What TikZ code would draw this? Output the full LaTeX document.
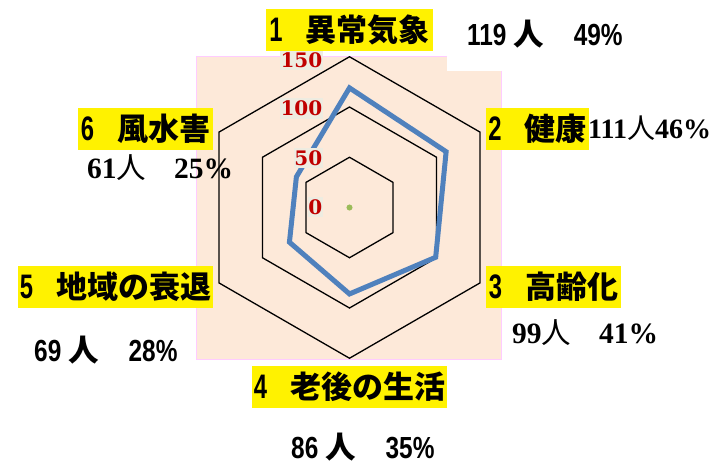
\documentclass[tikz,border=0pt]{standalone}
\usepackage{fontspec}
\setmainfont{Liberation Serif}
\newfontfamily\nar[FakeStretch=0.8]{Liberation Sans}
\newfontfamily\narl[FakeStretch=0.7]{Liberation Sans}
\newfontfamily\cjk{Noto Sans CJK JP}
\newfontfamily\axfont{DejaVu Serif}
\definecolor{plotbg}{HTML}{FDE9D9}
\definecolor{plotborder}{HTML}{FFCCFF}
\definecolor{tanbg}{HTML}{EEECE1}
\definecolor{axred}{HTML}{C00000}
\definecolor{serblue}{HTML}{4F81BD}
\definecolor{dotgreen}{HTML}{9BBB59}
\newcommand{\ylabtext}[2]{{\narl\bfseries\fontsize{34}{34}\selectfont #1}\hspace{23pt}{\cjk\bfseries #2}}
\newcommand{\hito}{{\cjk\mdseries 人}}
\newcommand{\hitob}{{\cjk\bfseries 人}}
\begin{document}
\begin{tikzpicture}[x=1pt,y=-1pt,
  ylab/.style={fill=yellow, inner sep=0pt, minimum height=42pt, font=\fontsize{31}{31}\selectfont},
  axl/.style={fill=tanbg, text=axred, inner xsep=0.5pt, inner ysep=2.5pt, anchor=east, font=\axfont\bfseries\fontsize{20}{20}\selectfont},
  ncnt/.style={inner sep=0pt, anchor=base west, font=\nar\bfseries\fontsize{30.5}{30}\selectfont},
  scnt/.style={inner sep=0pt, anchor=base west, font=\bfseries\fontsize{29.5}{30}\selectfont},
  gridline/.style={draw=black, line width=1.3pt},
  serline/.style={draw=serblue, line width=5pt, line join=miter}
]
\useasboundingbox (0,0) rectangle (716,464);
\filldraw[fill=plotbg, draw=plotborder, line width=1pt] (196.7,56) rectangle (501,359);
\fill[white] (447,30) rectangle (506,70.5);
\begin{scope}[shift={(349.5,207.5)}, scale=1.005]
  \foreach \r in {50,100,150}
    \draw[gridline] (-90:\r) -- (-30:\r) -- (30:\r) -- (90:\r) -- (150:\r) -- (210:\r) -- cycle;
  \coordinate (p1) at (-90:119);
  \coordinate (p2) at (-30:111);
  \coordinate (p3) at (30:99);
  \coordinate (p4) at (90:86);
  \coordinate (p5) at (150:69);
  \coordinate (p6) at (210:61);
  \draw[serline] (p1) -- (p2) -- (p3) -- (p4) -- (p5) -- (p6) -- cycle;
  \fill[dotgreen] (0,0) circle (3);
\end{scope}
\node[axl] (a150) at (323,60) {150};
\node[axl] (a100) at (323,108.5) {100};
\node[axl] (a50) at (323,158) {50};
\node[axl] (a0) at (323,207) {0};
\node[ylab, minimum width=167pt] (l1) at (349.5,30) {\ylabtext{1}{異常気象}};
\node[ylab, minimum width=103pt] (l2) at (537.5,129) {\ylabtext{2}{健康}};
\node[ylab, minimum width=135pt] (l3) at (553.5,286.5) {\ylabtext{3}{高齢化}};
\node[ylab, minimum width=195pt] (l4) at (349.5,387) {\ylabtext{4}{老後の生活}};
\node[ylab, minimum width=195pt] (l5) at (115.5,287) {\ylabtext{5}{地域の衰退}};
\node[ylab, minimum width=135pt] (l6) at (145.5,128.5) {\ylabtext{6}{風水害}};
\node[ncnt] (c1) at (467,45) {119 \hitob\hspace{30pt}49\%};
\node[scnt] (c2) at (588,138) {\fontsize{28}{28}\selectfont 111\hito 46\%};
\node[scnt] (c3) at (512,343) {99\hito\hspace{28pt}41\%};
\node[ncnt] (c4) at (291,458) {86 \hitob\hspace{30pt}35\%};
\node[ncnt] (c5) at (34,361) {69 \hitob\hspace{30pt}28\%};
\node[scnt] (c6) at (87,178) {61\hito\hspace{28pt}25\%};
\end{tikzpicture}
\end{document}
